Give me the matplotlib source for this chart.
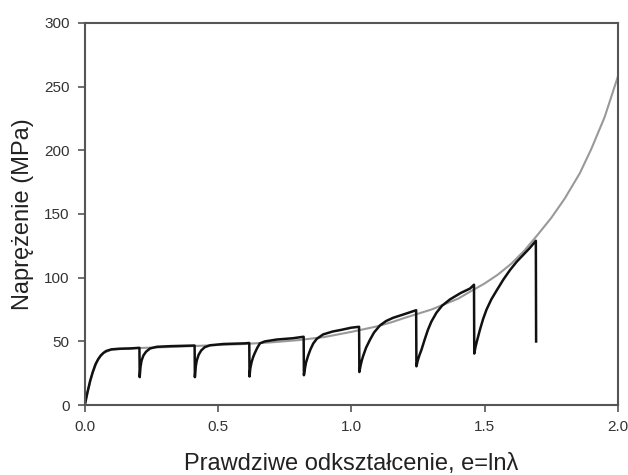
import matplotlib
matplotlib.use("Agg")
from matplotlib import pyplot as plt

plt.rcParams['font.family'] = ['Liberation Sans', 'DejaVu Sans']

# black curve: stepwise loading with relaxation drops
strain_black = [0.0, 0.01, 0.02, 0.03, 0.04, 0.05, 0.06, 0.07, 0.08, 0.1, 0.13, 0.17, 0.205,
                0.206, 0.209, 0.213, 0.22, 0.23, 0.245, 0.27, 0.32, 0.412,
                0.413, 0.416, 0.42, 0.427, 0.437, 0.45, 0.47, 0.52, 0.6, 0.617,
                0.618, 0.621, 0.626, 0.632, 0.638, 0.647, 0.657, 0.675, 0.72, 0.78, 0.821,
                0.822, 0.826, 0.83, 0.838, 0.847, 0.857, 0.87, 0.894, 0.93, 0.96, 1.0, 1.029,
                1.03, 1.034, 1.039, 1.044, 1.055, 1.069, 1.085, 1.107, 1.13, 1.156, 1.2, 1.243,
                1.244, 1.249, 1.255, 1.263, 1.275, 1.287, 1.3, 1.319, 1.34, 1.37, 1.41, 1.445, 1.46,
                1.461, 1.466, 1.472, 1.482, 1.494, 1.507, 1.525, 1.545, 1.57, 1.595, 1.62, 1.645,
                1.67, 1.692,
                1.693]
stress_black = [0, 10, 19, 26, 32, 36, 39, 41, 42.5, 43.8, 44.3, 44.5, 45,
                22, 30, 35, 39, 42, 44.5, 45.8, 46.3, 46.8,
                22, 30, 35, 39.5, 43, 45.5, 47, 48, 48.5, 48.8,
                22.5, 29, 34, 38, 41, 45, 48.5, 50, 51.5, 52.5, 53.7,
                23.5, 29, 33.5, 39, 44, 48.4, 52, 55.5, 57.8, 59, 60.8, 61.5,
                26, 30.5, 35, 38.5, 45, 51, 57, 62.5, 66, 68.5, 71.5, 74.5,
                30.5, 35, 39, 43.5, 51.5, 59, 65.5, 72.5, 78, 83, 88, 91.5, 94.5,
                40.5, 46, 51, 59, 67.5, 75, 83, 90, 98.5, 106, 112.5, 118,
                123.5, 129,
                50]

# grey curve: continuous loading
strain_grey = [0.0, 0.01, 0.03, 0.05, 0.07, 0.1, 0.15, 0.2, 0.3, 0.4, 0.5, 0.6, 0.7, 0.8,
               0.9, 1.0, 1.1, 1.156, 1.2, 1.3, 1.4, 1.445, 1.5, 1.55, 1.6, 1.65, 1.7,
               1.75, 1.8, 1.857, 1.9, 1.95, 2.0]
stress_grey = [0, 10, 26, 36, 41, 43.5, 44.3, 44.8, 45.5, 46.3, 47.2, 48, 49.3, 51,
               53.5, 57.5, 62, 65.4, 68.5, 75, 83.5, 89, 95.5, 102.5, 111, 121.5, 134,
               147, 162, 182, 201, 226, 258]

fig = plt.figure(figsize=(6.28, 4.75), dpi=100)
ax = fig.add_axes([0.135, 0.147, 0.849, 0.805])

ax.plot(strain_grey, stress_grey, color='#999999', lw=1.5)
ax.plot(strain_black, stress_black, color='#111111', lw=1.8)

ax.set_xlim(0, 2.0)
ax.set_ylim(0, 300)
ax.set_xticks([0.0, 0.5, 1.0, 1.5, 2.0])
ax.set_xticklabels(['0.0', '0.5', '1.0', '1.5', '2.0'])
ax.set_yticks([0, 50, 100, 150, 200, 250, 300])

for s in ax.spines.values():
    s.set_color('#555555')
    s.set_linewidth(1.5)
ax.tick_params(direction='out', length=5, width=1.2, color='#555555', pad=6,
               labelsize=11, labelcolor='#333333', top=False, right=False)

ax.set_xlabel('Prawdziwe odkształcenie, e=lnλ', fontsize=17, color='#222222', labelpad=13)
ax.set_ylabel('Naprężenie (MPa)', fontsize=17, color='#222222', labelpad=7)

fig.savefig('out.png', dpi=100)
